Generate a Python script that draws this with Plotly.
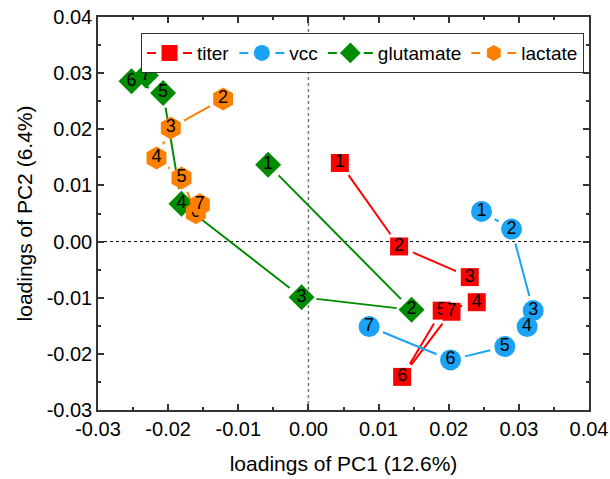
import numpy as np
import plotly.graph_objects as go

# ---- data ----
titer_labels = ["1", "2", "3", "4", "5", "6", "7"]
titer_x = [0.00448, 0.01293, 0.0230, 0.0240, 0.0190, 0.01336, 0.0204]
titer_y = [0.0140, -0.00087, -0.00633, -0.0108, -0.0123, -0.0241, -0.0125]

vcc_labels = ["1", "2", "3", "4", "5", "6", "7"]
vcc_x = [0.02468, 0.02896, 0.03204, 0.03118, 0.0280, 0.02026, 0.00865]
vcc_y = [0.00537, 0.00223, -0.01229, -0.01514, -0.01871, -0.02108, -0.01514]

glu_labels = ["1", "2", "3", "4", "5", "6", "7"]
glu_x = [-0.00575, 0.0147, -0.00098, -0.0181, -0.02072, -0.02522, -0.02318]
glu_y = [0.0137, -0.01216, -0.0099, 0.00674, 0.02648, 0.02855, 0.02957]

lac_labels = ["2", "3", "4", "5", "6", "7"]
lac_x = [-0.01216, -0.01962, -0.02166, -0.0181, -0.01605, -0.01548]
lac_y = [0.02541, 0.02024, 0.01489, 0.01133, 0.00514, 0.00656]

series_names = ["titer", "vcc", "glutamate", "lactate"]

x_ticks = [-0.03, -0.02, -0.01, 0.00, 0.01, 0.02, 0.03, 0.04]
x_ticktext = ["-0.03", "-0.02", "-0.01", "0.00", "0.01", "0.02", "0.03", "0.04"]
y_ticks = [-0.03, -0.02, -0.01, 0.00, 0.01, 0.02, 0.03, 0.04]
y_ticktext = ["-0.03", "-0.02", "-0.01", "0.00", "0.01", "0.02", "0.03", "0.04"]

# ---- layout constants ----
W, H = 610, 479
ML, MR, MT, MB = 98, 21, 17, 69
XR = [-0.03, 0.04]
YR = [-0.03, 0.04]
sx = (W - ML - MR) / (XR[1] - XR[0])
sy = (H - MT - MB) / (YR[1] - YR[0])
GAP = 15  # px gap between line end and symbol centre

FONT = "Liberation Sans, Arial, sans-serif"

styles = [
    dict(color="#FF0000", symbol="square", size=18),
    dict(color="#1AA3F5", symbol="circle", size=21),
    dict(color="#008C00", symbol="diamond", size=20),
    dict(color="#FF8000", symbol="hexagon", size=23),
]
data = [
    (titer_x, titer_y, titer_labels),
    (vcc_x, vcc_y, vcc_labels),
    (glu_x, glu_y, glu_labels),
    (lac_x, lac_y, lac_labels),
]


def gapped_segments(xs, ys):
    lx, ly = [], []
    for i in range(len(xs) - 1):
        x0, y0, x1, y1 = xs[i], ys[i], xs[i + 1], ys[i + 1]
        dxp, dyp = (x1 - x0) * sx, (y1 - y0) * sy
        L = float(np.hypot(dxp, dyp))
        if L <= 2 * GAP + 1:
            continue
        f = GAP / L
        lx += [x0 + (x1 - x0) * f, x1 - (x1 - x0) * f, None]
        ly += [y0 + (y1 - y0) * f, y1 - (y1 - y0) * f, None]
    return lx, ly


fig = go.Figure()
for name, st, (xs, ys, labs) in zip(series_names, styles, data):
    lx, ly = gapped_segments(xs, ys)
    fig.add_trace(go.Scatter(x=lx, y=ly, mode="lines",
                             line=dict(color=st["color"], width=2),
                             showlegend=False, hoverinfo="skip"))
    for xv, yv, lb in zip(xs, ys, labs):
        fig.add_trace(go.Scatter(
            x=[xv], y=[yv], mode="markers+text", text=[lb],
            textposition="middle center",
            textfont=dict(family=FONT, size=18, color="black"),
            marker=dict(color=st["color"], symbol=st["symbol"], size=st["size"],
                        line=dict(width=0)),
            showlegend=False))
    # legend entry
    fig.add_trace(go.Scatter(
        x=[None], y=[None], mode="lines+markers", name=name,
        line=dict(color=st["color"], width=2, dash="dash"),
        marker=dict(color=st["color"], symbol=st["symbol"], size=st["size"])))

# zero reference lines
fig.add_shape(type="line", xref="x", yref="paper", x0=0, x1=0, y0=0, y1=1,
              line=dict(color="#777777", width=1.5, dash="dot"), layer="below")
fig.add_shape(type="line", xref="paper", yref="y", x0=0, x1=1, y0=0, y1=0,
              line=dict(color="black", width=1, dash="dot"), layer="below")

axis_common = dict(
    showline=True, linecolor="#333333", linewidth=1.5, mirror="ticks",
    ticks="inside", ticklen=6, tickwidth=1.5, tickcolor="#333333",
    minor=dict(ticks="inside", ticklen=3, tickwidth=1.5, tickcolor="#333333"),
    showgrid=False, zeroline=False, automargin=False,
    tickfont=dict(family=FONT, size=20, color="black"),
)
fig.update_xaxes(range=XR, tickvals=x_ticks, ticktext=x_ticktext,
                 title=dict(text="loadings of PC1 (12.6%)",
                            font=dict(family=FONT, size=21, color="black"),
                            standoff=18),
                 **axis_common)
fig.update_yaxes(range=YR, tickvals=y_ticks, ticktext=y_ticktext,
                 title=dict(text="loadings of PC2 (6.4%)",
                            font=dict(family=FONT, size=21, color="black"),
                            standoff=8),
                 **axis_common)
fig.update_xaxes(minor=dict(tickvals=list(np.arange(-0.025, 0.04, 0.01))))
fig.update_yaxes(minor=dict(tickvals=list(np.arange(-0.025, 0.04, 0.01))))

fig.update_layout(
    width=W, height=H,
    margin=dict(l=ML, r=MR, t=MT, b=MB, autoexpand=False),
    plot_bgcolor="white", paper_bgcolor="white",
    font=dict(family=FONT, color="black"),
    legend=dict(orientation="h", x=0.0876, y=0.959, xanchor="left", yanchor="top",
                bgcolor="white", bordercolor="#333333", borderwidth=1,
                font=dict(family=FONT, size=19, color="black"),
                itemsizing="trace", itemwidth=45, tracegroupgap=0),
)

fig.write_html("out.html", config={"displayModeBar": False},
               post_script="document.body.style.margin='0';document.body.style.overflow='hidden';")
